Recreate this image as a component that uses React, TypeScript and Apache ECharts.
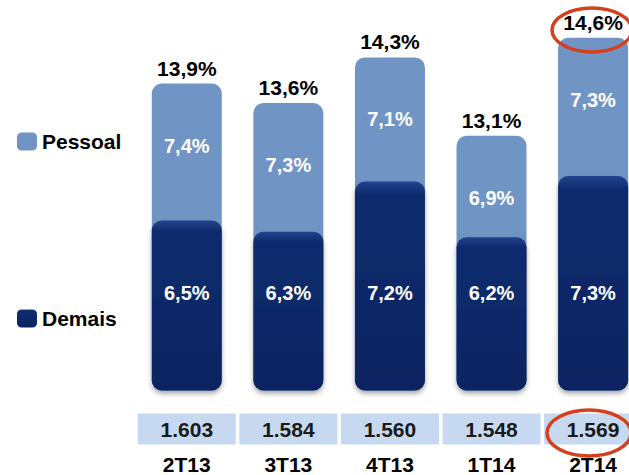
import React, { useEffect, useRef } from "react";
import * as echarts from "echarts";

const categories = ["2T13", "3T13", "4T13", "1T14", "2T14"];
const pessoal = [7.4, 7.3, 7.1, 6.9, 7.3];
const demais = [6.5, 6.3, 7.2, 6.2, 7.3];
const total = [13.9, 13.6, 14.3, 13.1, 14.6];
const headcount = [1603, 1584, 1560, 1548, 1569];

const FONT = "'Liberation Sans', Arial, sans-serif";
const LIGHT = "#7095c4";
const pct = (v: number) => v.toFixed(1).replace(".", ",") + "%";
const thousands = (v: number) => String(v).replace(/\B(?=(\d{3})+(?!\d))/g, ".");

export default function App() {
  const ref = useRef<HTMLDivElement>(null);
  useEffect(() => {
    if (!ref.current) return;
    const chart = echarts.init(ref.current, null, { renderer: "svg" });
    const darkFill = new echarts.graphic.LinearGradient(0, 0, 0, 1, [
      { offset: 0, color: "#23448e" },
      { offset: 0.06, color: "#0e2c6e" },
      { offset: 1, color: "#0a2461" },
    ]);
    chart.setOption({
      animation: false,
      textStyle: { fontFamily: FONT },
      legend: {
        orient: "vertical",
        left: 12,
        top: 126,
        itemWidth: 20,
        itemHeight: 18,
        itemGap: 156,
        icon: "roundRect",
        data: ["Pessoal", "Demais"],
        textStyle: { fontFamily: FONT, fontSize: 21, fontWeight: "bold", color: "#000" },
      },
      grid: { left: 136, right: 0, top: 30, bottom: 78 },
      xAxis: {
        type: "category",
        data: categories,
        axisLine: { show: false },
        axisTick: { show: false },
        axisLabel: {
          interval: 0,
          margin: 23,
          formatter: (value: string, idx: number) => `{v|${thousands(headcount[idx])}}\n{c|${value}}`,
          rich: {
            v: {
              width: 98,
              height: 31,
              lineHeight: 31,
              align: "center",
              backgroundColor: "#c6d9f0",
              fontSize: 21,
              fontWeight: "bold",
              color: "#1a1a1a",
              fontFamily: FONT,
            },
            c: {
              lineHeight: 40,
              fontSize: 21,
              fontWeight: "bold",
              color: "#000",
              fontFamily: FONT,
              align: "center",
            },
          },
        },
      },
      yAxis: [
        { type: "value", min: 3.45, max: 9.92, show: false, splitLine: { show: false } },
        { type: "value", min: 9.195, max: 14.72, show: false, splitLine: { show: false } },
      ],
      series: [
        {
          name: "Pessoal",
          type: "bar",
          yAxisIndex: 1,
          data: total,
          barWidth: 70,
          barGap: "-100%",
          z: 2,
          itemStyle: { color: LIGHT, borderRadius: 10 },
          label: {
            show: true,
            position: "top",
            distance: 5,
            formatter: (p: any) => pct(p.value),
            fontFamily: FONT,
            fontSize: 21,
            fontWeight: "bold",
            color: "#000",
          },
        },
        {
          name: "Demais",
          type: "bar",
          yAxisIndex: 0,
          data: demais,
          barWidth: 70,
          barGap: "-100%",
          z: 3,
          itemStyle: {
            color: darkFill,
            borderRadius: 10,
            shadowColor: "rgba(0,0,0,0.35)",
            shadowBlur: 5,
            shadowOffsetY: 3,
          },
          label: {
            show: true,
            position: "insideBottom",
            distance: 88,
            formatter: (p: any) => pct(p.value),
            fontFamily: FONT,
            fontSize: 20,
            fontWeight: "bold",
            color: "#fff",
          },
        },
        {
          name: "PessoalLabel",
          type: "bar",
          yAxisIndex: 1,
          data: total,
          barWidth: 70,
          barGap: "-100%",
          z: 4,
          silent: true,
          itemStyle: { color: "rgba(0,0,0,0)" },
          label: {
            show: true,
            position: "insideTop",
            distance: 52,
            formatter: (p: any) => pct(pessoal[p.dataIndex]),
            fontFamily: FONT,
            fontSize: 20,
            fontWeight: "bold",
            color: "#fff",
          },
        },
      ],
      graphic: [
        {
          type: "ellipse",
          shape: { cx: 592, cy: 30, rx: 40, ry: 22 },
          style: { fill: "none", stroke: "#d4401e", lineWidth: 3.5 },
          z: 10,
        },
        {
          type: "ellipse",
          shape: { cx: 589, cy: 433, rx: 42, ry: 23 },
          style: { fill: "none", stroke: "#d4401e", lineWidth: 3.5 },
          z: 10,
        },
      ],
    });
    return () => chart.dispose();
  }, []);
  return (
    <div
      ref={ref}
      style={{ position: "fixed", left: 0, top: 0, width: 645, height: 475, background: "#fff" }}
    />
  );
}
